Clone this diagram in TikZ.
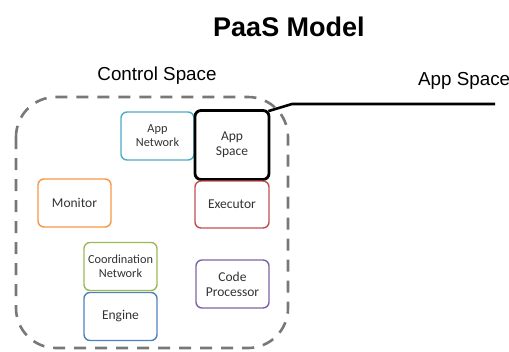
\documentclass[tikz,border=0pt]{standalone}
\usepackage{fontspec}
\setmainfont{Liberation Sans}
\newfontfamily\boxfont{Carlito}
\usepackage{xcolor}
\usetikzlibrary{positioning}
\definecolor{netblue}{RGB}{75,172,198}
\definecolor{monorange}{RGB}{247,150,70}
\definecolor{execred}{RGB}{192,80,77}
\definecolor{coordgreen}{RGB}{155,187,89}
\definecolor{engblue}{RGB}{79,129,189}
\definecolor{codepurple}{RGB}{128,100,162}
\definecolor{spacegray}{RGB}{120,120,120}
\definecolor{labelgray}{RGB}{50,50,50}
\tikzset{
  pbox/.style={draw, rounded corners=6pt, line width=1.4pt, minimum width=73pt,
    minimum height=48pt, inner sep=0pt, align=center, text=labelgray,
    font=\boxfont\fontsize{13.5}{15}\selectfont},
  smalltext/.style={font=\boxfont\fontsize{12.3}{14}\selectfont}
}
\begin{document}
\begin{tikzpicture}[x=1pt,y=-1pt]
  \useasboundingbox (0,0) rectangle (509,351);
  % Title
  \node[font=\bfseries\fontsize{27}{30}\selectfont] (title) at (289,27) {PaaS Model};

  % Control space boundary
  \draw[spacegray, line width=2.6pt, dash pattern=on 12pt off 9pt, rounded corners=40pt]
    (16,97) rectangle (288,348);
  \node[font=\fontsize{18.8}{21}\selectfont] (ctrl) at (157,76) {Control Space};

  % Components
  \node[pbox, netblue, text=labelgray, smalltext] (appnet) at (157.5,136) {App\\Network};
  \node[pbox, black, line width=2.8pt, minimum width=74pt, minimum height=69pt,
    text=labelgray] (appspace) at (232,145) {App\\Space};
  \node[pbox, monorange, text=labelgray] (monitor) at (74.5,203) {Monitor};
  \node[pbox, execred, text=labelgray, minimum width=74pt, minimum height=47pt] (executor) at (232,204.5) {Executor};
  \node[pbox, coordgreen, text=labelgray, smalltext] (coord) at (120.5,266.5) {Coordination\\Network};
  \node[pbox, engblue, text=labelgray] (engine) at (120.5,316.5) {Engine};
  \node[pbox, codepurple, text=labelgray] (codeproc) at (232.5,284) {Code\\Processor};

  % App space link
  \coordinate (bend) at (292,104);
  \coordinate (append) at (495,104);
  \draw[line width=2.6pt] ([xshift=-2pt,yshift=-2pt]appspace.north east) -- (bend) -- (append);
  \node[font=\fontsize{18.8}{21}\selectfont, anchor=west, inner sep=0pt] (applbl) at (418,81) {App Space};
\end{tikzpicture}
\end{document}
